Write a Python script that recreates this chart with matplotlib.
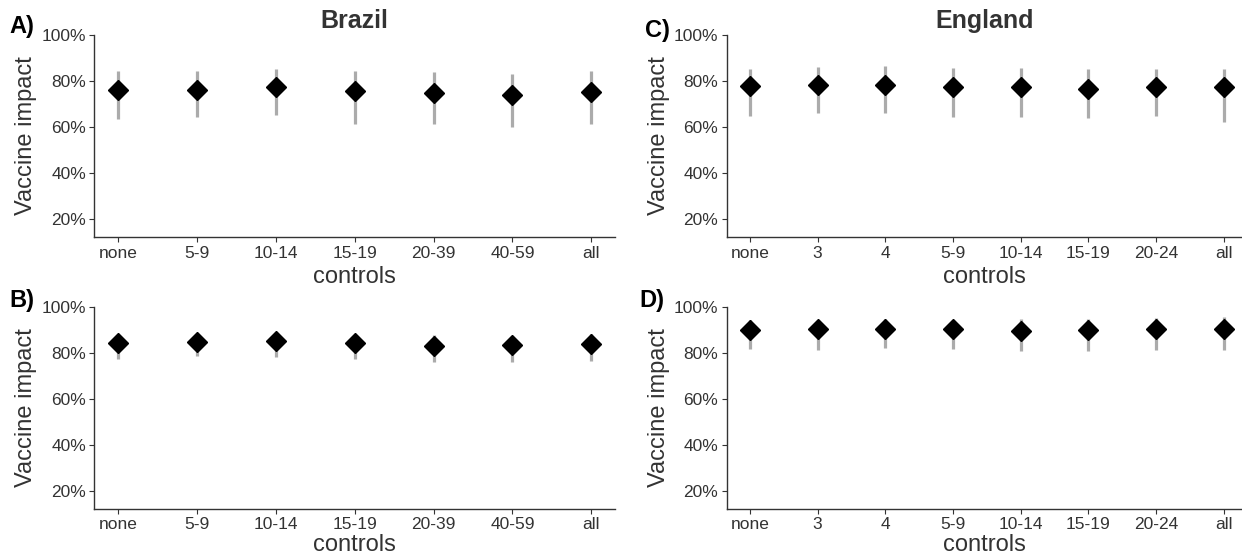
import matplotlib
matplotlib.use("Agg")
import matplotlib.pyplot as plt
from matplotlib.ticker import FuncFormatter

plt.rcParams['font.family'] = ['Liberation Sans', 'DejaVu Sans']

# Brazil
brazil_controls = ['none', '5-9', '10-14', '15-19', '20-39', '40-59', 'all']
brazil_A_est = [75.8, 76.1, 77.3, 75.4, 74.5, 73.8, 75.3]
brazil_A_lo = [63.4, 64.2, 65.1, 61.4, 61.4, 60.0, 61.1]
brazil_A_hi = [84.2, 84.4, 85.2, 84.4, 83.8, 83.1, 84.1]
brazil_B_est = [84.1, 84.8, 85.0, 84.1, 82.9, 83.2, 83.7]
brazil_B_lo = [77.2, 78.7, 77.9, 77.2, 76.0, 76.0, 76.5]
brazil_B_hi = [87.8, 88.3, 88.6, 87.8, 87.7, 87.4, 88.0]

# England
england_controls = ['none', '3', '4', '5-9', '10-14', '15-19', '20-24', 'all']
england_C_est = [77.8, 78.3, 78.3, 77.3, 77.3, 76.3, 77.2, 77.2]
england_C_lo = [64.9, 66.2, 66.2, 64.3, 64.3, 63.7, 64.9, 62.0]
england_C_hi = [85.2, 85.8, 86.4, 85.5, 85.5, 85.0, 85.0, 85.2]
england_D_est = [89.8, 90.1, 90.3, 90.1, 89.5, 89.7, 90.3, 90.4]
england_D_lo = [81.6, 81.3, 82.1, 81.7, 80.8, 80.8, 81.3, 81.3]
england_D_hi = [94.2, 94.4, 94.5, 94.4, 94.5, 94.7, 95.1, 95.5]

W, H = 1242, 557
fig = plt.figure(figsize=(W / 100, H / 100), dpi=100)

dark = '#333333'


def px_axes(left, right, top, bottom):
    return fig.add_axes([left / W, (H - bottom) / H, (right - left) / W, (bottom - top) / H])


def panel(ax, cats, est, lo, hi, xlim, xpad=4):
    x = list(range(len(cats)))
    ax.vlines(x, lo, hi, color='#ababab', lw=2.3, zorder=2)
    ax.plot(x, est, ls='none', marker='D', ms=10, color='black', zorder=3)
    ax.set_xlim(*xlim)
    ax.set_ylim(12.1, 100)
    ax.set_xticks(x)
    ax.set_xticklabels(cats)
    ax.set_yticks([20, 40, 60, 80, 100])
    ax.yaxis.set_major_formatter(FuncFormatter(lambda v, p: f'{v:.0f}%'))
    for s in ['top', 'right']:
        ax.spines[s].set_visible(False)
    for s in ['left', 'bottom']:
        ax.spines[s].set_color(dark)
        ax.spines[s].set_linewidth(1.0)
    ax.tick_params(length=3.5, width=0.8, color=dark, labelcolor=dark, labelsize=12.5, pad=2.5)
    ax.set_xlabel('controls', fontsize=17, color=dark, labelpad=xpad)
    ax.set_ylabel('Vaccine impact', fontsize=17, color=dark, labelpad=3)


axA = px_axes(94.3, 615, 34.7, 237.3)
panel(axA, brazil_controls, brazil_A_est, brazil_A_lo, brazil_A_hi, (-0.3, 6.3))
axA.set_title('Brazil', fontsize=18, fontweight='bold', color=dark, pad=5)

axB = px_axes(94.3, 615, 306.7, 508.7)
panel(axB, brazil_controls, brazil_B_est, brazil_B_lo, brazil_B_hi, (-0.3, 6.3), xpad=1.5)

c_unit = (1223.7 - 750) / 7
c_lim = (-(750 - 726.7) / c_unit, 7 + (1242 - 1223.7) / c_unit)
axC = px_axes(726.7, 1242, 34.7, 237.3)
panel(axC, england_controls, england_C_est, england_C_lo, england_C_hi, c_lim)
axC.set_title('England', fontsize=18, fontweight='bold', color=dark, pad=5)

axD = px_axes(726.7, 1242, 306.7, 508.7)
panel(axD, england_controls, england_D_est, england_D_lo, england_D_hi, c_lim, xpad=1.5)

for lab, xp, yp in [('A)', 9, 27), ('B)', 9, 301), ('C)', 645, 30), ('D)', 639, 301)]:
    fig.text(xp / W, 1 - yp / H, lab, fontsize=17, fontweight='bold', color='black',
             ha='left', va='center')

fig.savefig('out.png', dpi=100)
